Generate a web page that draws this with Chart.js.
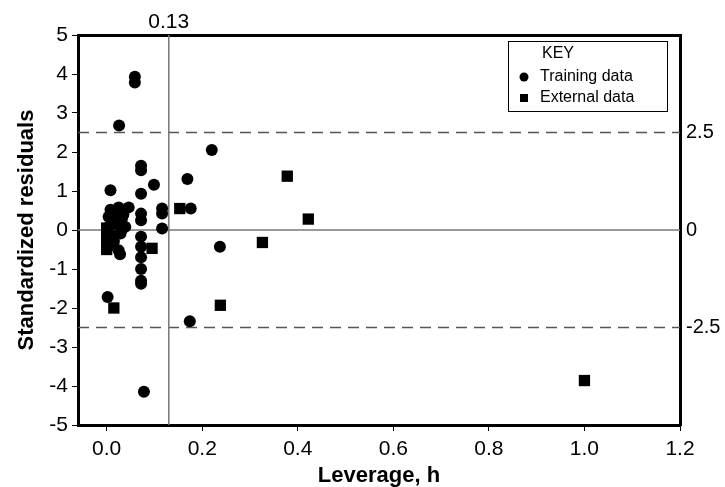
<!DOCTYPE html>
<html>
<head>
<meta charset="utf-8">
<script src="https://cdn.jsdelivr.net/npm/chart.js@4.4.1/dist/chart.umd.min.js"></script>
<style>
  html, body { margin: 0; padding: 0; background: #fff; }
  #wrap { width: 725px; height: 487px; }
</style>
</head>
<body>
<div id="wrap"><canvas id="c" width="725" height="487"></canvas></div>
<script>
// ---- Data ----
const trainingH = [0.059, 0.059, 0.026, 0.220, 0.072, 0.072, 0.169, 0.099, 0.008, 0.072,
  0.008, 0.025, 0.046, 0.004, 0.032, 0.004, 0.039, 0.001, 0.029, 0.004,
  0.025, 0.028, 0.072, 0.072, 0.072, 0.072, 0.072, 0.072, 0.072, 0.072,
  0.116, 0.116, 0.116, 0.176, 0.237, 0.002, 0.174, 0.078, 0.018, 0.012,
  0.015, 0.035];
const trainingR = [3.93, 3.78, 2.68, 2.05, 1.65, 1.53, 1.31, 1.16, 1.02, 0.93,
  0.52, 0.58, 0.58, 0.34, 0.29, 0.08, 0.08, -0.17, -0.09, -0.43,
  -0.52, -0.62, 0.42, 0.25, -0.17, -0.43, -0.70, -1.00, -1.30, -1.38,
  0.55, 0.42, 0.04, 0.55, -0.43, -1.72, -2.34, -4.15, 0.45, 0.15,
  -0.30, 0.40];
const externalH = [0.153, 0.326, 0.015, 0.238, 0.378, 0.422, 0.095, 1.000,
  0.000, 0.000, 0.000, 0.000, 0.012, 0.020, 0.030, 0.015];
const externalR = [0.55, -0.32, -2.00, -1.93, 1.38, 0.28, -0.47, -3.86,
  0.05, -0.15, -0.35, -0.50, 0.20, 0.32, 0.05, -0.15];

const xTicks = [0.0, 0.2, 0.4, 0.6, 0.8, 1.0, 1.2];
const yTicks = [-5, -4, -3, -2, -1, 0, 1, 2, 3, 4, 5];
const rightTicks = [-2.5, 0, 2.5];
const leverageCut = 0.13;
const residualLimits = [2.5, -2.5];
const zeroLine = 0;

const seriesNames = ['Training data', 'External data'];
const legendTitle = 'KEY';

const toPts = (xs, ys) => xs.map((x, i) => ({ x: x, y: ys[i] }));

const FONT = "'Liberation Sans', Arial, sans-serif";

const refLines = {
  id: 'refLines',
  beforeDatasetsDraw(chart) {
    const { ctx, chartArea: a, scales } = chart;
    const xs = scales.x, ys = scales.y;
    ctx.save();
    ctx.beginPath();
    ctx.rect(a.left, a.top, a.right - a.left, a.bottom - a.top);
    ctx.clip();
    ctx.strokeStyle = '#555';
    ctx.lineWidth = 1.5;
    ctx.setLineDash([11, 7]);
    residualLimits.forEach(v => {
      const y = ys.getPixelForValue(v);
      ctx.beginPath(); ctx.moveTo(a.left, y); ctx.lineTo(a.right, y); ctx.stroke();
    });
    ctx.setLineDash([]);
    ctx.strokeStyle = '#777';
    ctx.lineWidth = 1.5;
    const y0 = ys.getPixelForValue(zeroLine);
    ctx.beginPath(); ctx.moveTo(a.left, y0); ctx.lineTo(a.right, y0); ctx.stroke();
    const xc = xs.getPixelForValue(leverageCut);
    ctx.beginPath(); ctx.moveTo(xc, a.top); ctx.lineTo(xc, a.bottom); ctx.stroke();
    ctx.restore();
  }
};

const keyBox = {
  id: 'keyBox',
  afterDraw(chart) {
    const { ctx, chartArea: a } = chart;
    const w = 159, h = 70;
    const x0 = a.right - 13 - w, y0 = a.top + 6;
    ctx.save();
    ctx.fillStyle = '#fff';
    ctx.fillRect(x0, y0, w, h);
    ctx.strokeStyle = '#000';
    ctx.lineWidth = 1;
    ctx.strokeRect(x0 + 0.5, y0 + 0.5, w, h);
    ctx.fillStyle = '#000';
    ctx.font = '16px ' + FONT;
    ctx.textBaseline = 'middle';
    ctx.textAlign = 'left';
    ctx.fillText(legendTitle, x0 + 34, y0 + 13);
    ctx.fillText(seriesNames[0], x0 + 32, y0 + 36);
    ctx.fillText(seriesNames[1], x0 + 32, y0 + 57);
    ctx.beginPath(); ctx.arc(x0 + 16, y0 + 36, 4.5, 0, Math.PI * 2); ctx.fill();
    ctx.fillRect(x0 + 12, y0 + 53, 8, 8);
    ctx.restore();
  }
};

new Chart(document.getElementById('c'), {
  type: 'scatter',
  data: {
    datasets: [
      { label: seriesNames[0], data: toPts(trainingH, trainingR), pointStyle: 'circle',
        pointRadius: 6, pointHoverRadius: 6, backgroundColor: '#000', borderColor: '#000', borderWidth: 0 },
      { label: seriesNames[1], data: toPts(externalH, externalR), pointStyle: 'rect',
        pointRadius: 8, pointHoverRadius: 8, backgroundColor: '#000', borderColor: '#000', borderWidth: 0 }
    ]
  },
  options: {
    responsive: false,
    animation: false,
    events: [],
    layout: { padding: 0 },
    plugins: { legend: { display: false }, tooltip: { enabled: false }, title: { display: false } },
    scales: {
      x: {
        type: 'linear', position: 'bottom', min: -0.06, max: 1.2,
        afterBuildTicks: s => { s.ticks = xTicks.map(v => ({ value: v })); },
        afterFit: s => { s.height = 62; },
        ticks: { color: '#000', font: { family: FONT, size: 21 }, padding: 6,
                 callback: v => Number(v).toFixed(1), maxRotation: 0, autoSkip: false },
        grid: { display: true, drawOnChartArea: false, drawTicks: true, tickLength: 6, color: '#000', lineWidth: 1 },
        border: { display: true, color: '#000', width: 3 },
        title: { display: true, text: 'Leverage, h', color: '#000', font: { family: FONT, size: 22, weight: 'bold', lineHeight: 1 }, padding: 0 }
      },
      x2: {
        type: 'linear', position: 'top', min: -0.06, max: 1.2,
        afterBuildTicks: s => { s.ticks = [{ value: leverageCut }]; },
        afterFit: s => { s.height = 35; },
        ticks: { color: '#000', font: { family: FONT, size: 21 }, padding: 0, maxRotation: 0, autoSkip: false,
                 callback: v => String(v) },
        grid: { display: false, drawTicks: false },
        border: { display: true, color: '#000', width: 3 }
      },
      y: {
        type: 'linear', position: 'left', min: -5, max: 5,
        afterBuildTicks: s => { s.ticks = yTicks.map(v => ({ value: v })); },
        afterFit: s => { s.width = 78; },
        ticks: { color: '#000', font: { family: FONT, size: 21 }, padding: 4 },
        grid: { display: true, drawOnChartArea: false, drawTicks: true, tickLength: 6, color: '#000', lineWidth: 1 },
        border: { display: true, color: '#000', width: 3 },
        title: { display: true, text: 'Standardized residuals', color: '#000', font: { family: FONT, size: 22, weight: 'bold' }, padding: { top: 14, bottom: 0 } }
      },
      y2: {
        type: 'linear', position: 'right', min: -5, max: 5,
        afterBuildTicks: s => { s.ticks = rightTicks.map(v => ({ value: v })); },
        afterFit: s => { s.width = 45; },
        ticks: { color: '#000', font: { family: FONT, size: 20 }, padding: 6, callback: v => String(v) },
        grid: { display: false, drawTicks: false },
        border: { display: true, color: '#000', width: 3 }
      }
    }
  },
  plugins: [refLines, keyBox]
});
</script>
</body>
</html>
